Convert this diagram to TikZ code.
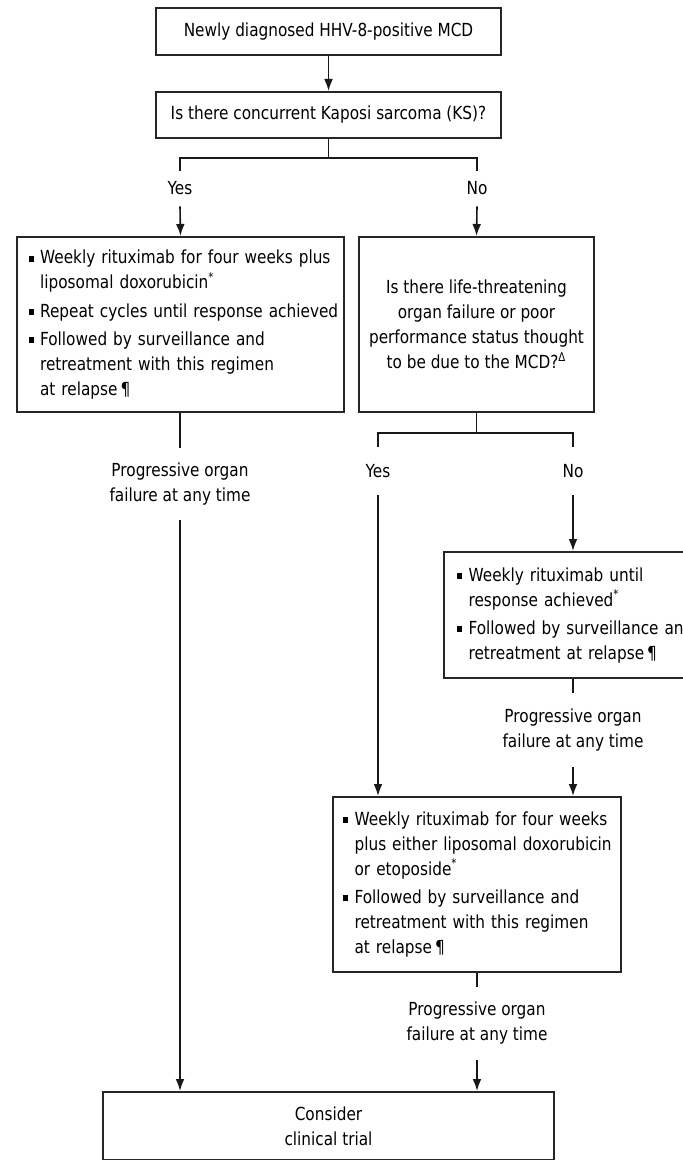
\documentclass[tikz,border=0pt]{standalone}
\usepackage{fontspec}
\setmainfont{DejaVu Sans}[FakeStretch=0.85]
\usetikzlibrary{calc,arrows.meta}
\newcommand{\sqbullet}{\rule[0.25ex]{2.6pt}{3pt}}
\newcommand{\fnmark}{\textsuperscript{*}}
\newenvironment{bullets}{\begin{tabular}{@{}l@{\hspace{3.2pt}}l@{}}}{\end{tabular}}

\begin{document}
\begin{tikzpicture}[x=0.5pt,y=-0.5pt,
            box/.style={draw=black!85,line width=1pt,inner sep=0pt,align=center,
                font=\fontsize{9}{12.5}\selectfont,text=black},
            label/.style={inner sep=0pt,align=center,font=\fontsize{9}{12.5}\selectfont,text=black},
            link/.style={line width=0.8pt,draw=black!90},
            arrow/.style={link,-{Latex[length=6pt,width=4.4pt]}}]
            \useasboundingbox (0,0) rectangle (683,1160);
            \clip (0,0) rectangle (683,1160);

            \node[box,minimum width=172.5pt,minimum height=23.5pt] (newdx) at (328.5,31.5) {Newly diagnosed HHV-8-positive MCD};
            \node[box,minimum width=172.5pt,minimum height=23pt] (ks) at (328.5,115) {Is there concurrent Kaposi sarcoma (KS)?};
            \node[label,minimum height=17.5pt] (ksyes) at (180,188.5) {Yes};
            \node[label,minimum height=17.5pt] (ksno) at (477,188.5) {No};

            \node[box,minimum width=163.5pt,minimum height=87.5pt,text width=152pt,align=left] (ksrx) at (180.5,324.5) {%
                \begin{bullets}
                    \sqbullet & Weekly rituximab for four weeks plus\\
                              & liposomal doxorubicin\fnmark\\[1.5pt]
                    \sqbullet & Repeat cycles until response achieved\\[1.5pt]
                    \sqbullet & Followed by surveillance and\\
                              & retreatment with this regimen\\
                              & at relapse\,¶
                \end{bullets}};
            \node[box,minimum width=117.5pt,minimum height=87.5pt] (organ) at (476.5,324.5)
                {Is there life-threatening\\organ failure or poor\\performance status thought\\to be due to the MCD?\textsuperscript{Δ}};

            \node[label,minimum height=36pt] (pofleft) at (180,484) {Progressive organ\\failure at any time};
            \node[label,minimum height=24pt] (orgyes) at (378,471) {Yes};
            \node[label,minimum height=24pt] (orgno) at (573,471) {No};

            \node[box,minimum width=129pt,minimum height=63pt,text width=116pt,align=left] (ritux) at (573,615) {%
                \begin{bullets}
                    \sqbullet & Weekly rituximab until\\
                              & response achieved\fnmark\\[1.5pt]
                    \sqbullet & Followed by surveillance and\\
                              & retreatment at relapse\,¶
                \end{bullets}};
            \node[label,minimum height=37pt] (porgright) at (573,730) {Progressive organ\\failure at any time};

            \node[box,minimum width=144pt,minimum height=87.5pt,text width=134pt,align=left] (chemo) at (477,884.5) {%
                \begin{bullets}
                    \sqbullet & Weekly rituximab for four weeks\\
                              & plus either liposomal doxorubicin\\
                              & or etoposide\fnmark\\[1.5pt]
                    \sqbullet & Followed by surveillance and\\
                              & retreatment with this regimen\\
                              & at relapse\,¶
                \end{bullets}};
            \node[label,minimum height=36.5pt] (porgmid) at (477,1023.5) {Progressive organ\\failure at any time};

            \node[box,minimum width=225.5pt,minimum height=34pt] (trial) at (328.5,1126) {Consider\\clinical trial};

            % forks
            \draw[link] (ks.south) -- ++(0,19) coordinate (kssplit);
            \draw[link] (ksyes.north) |- (kssplit) -| (ksno.north);
            \draw[link] (organ.south) -- ++(0,20) coordinate (orgsplit);
            \draw[link] (orgyes.north) |- (orgsplit) -| (orgno.north);

            \draw[link] (pofleft.north |- ksrx.south) -- (pofleft.north);
            \foreach \a/\b in {ritux/porgright,chemo/porgmid} {
                \draw[link] (\a.south) -- (\b.north);
            }
            \foreach \a/\b in {newdx/ks,ksyes/ksrx,ksno/organ,orgno/ritux} {
                \draw[arrow] (\a.south) -- (\b.north);
            }
            \draw[arrow] (orgyes.south) -- (orgyes.south |- chemo.north);
            \draw[arrow] (porgright.south) -- (porgright.south |- chemo.north);
            \draw[arrow] (pofleft.south) -- (pofleft.south |- trial.north);
            \draw[arrow] (porgmid.south) -- (porgmid.south |- trial.north);
        \end{tikzpicture}
\end{document}
